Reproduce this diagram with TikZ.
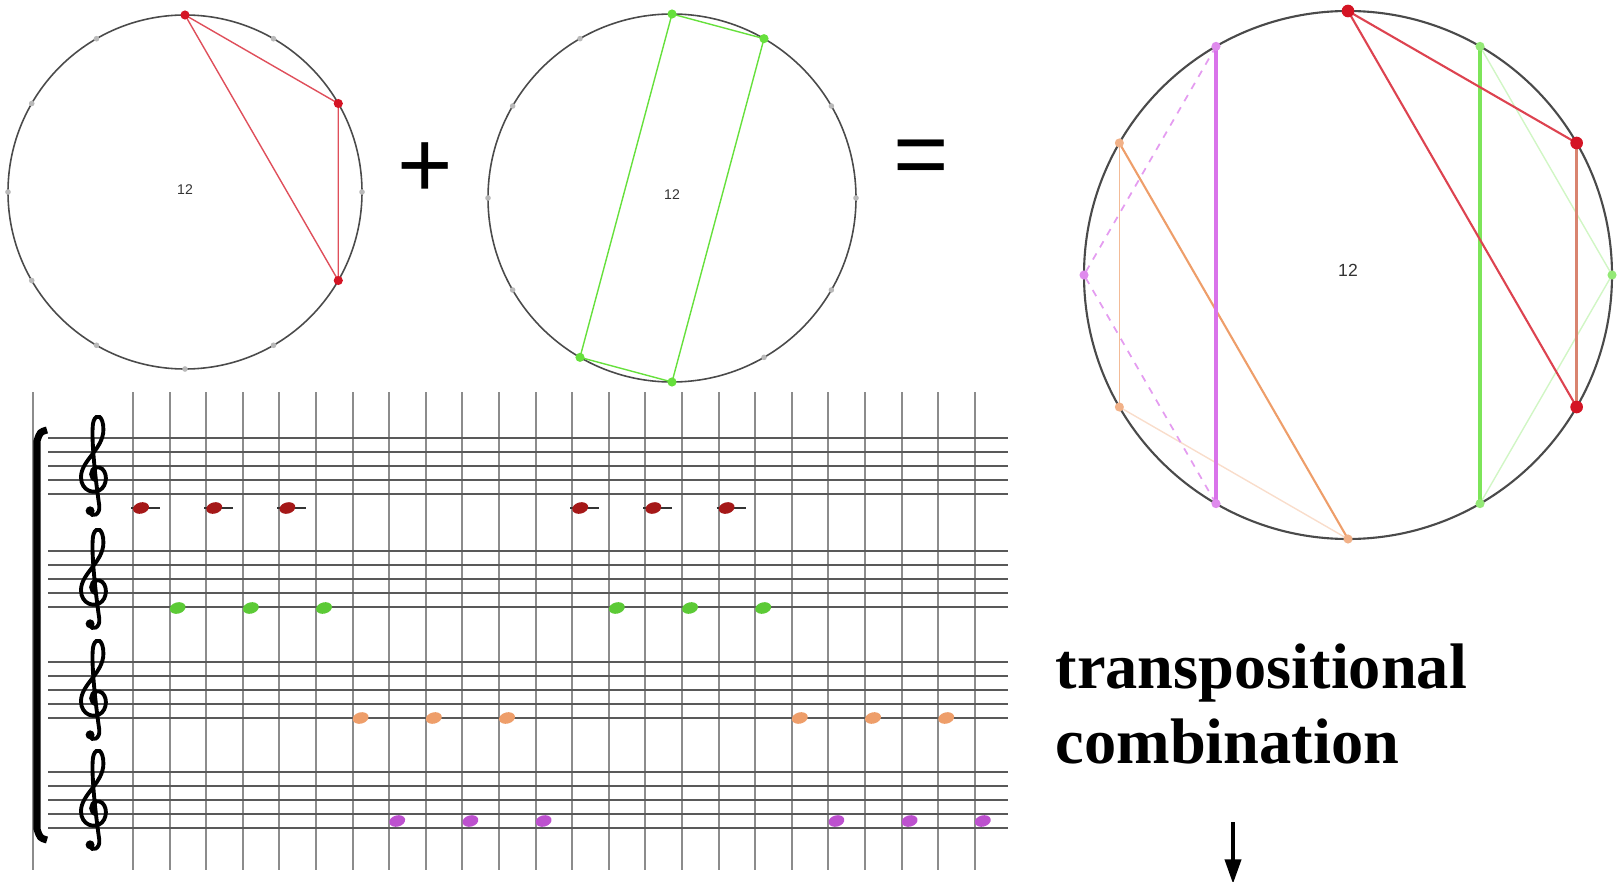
\documentclass[tikz,border=0pt]{standalone}
\usepackage{fontspec}
\setmainfont{Liberation Serif}
\newfontfamily\arialfont{Liberation Sans}
\usetikzlibrary{shapes.geometric,arrows.meta}
\definecolor{pcred}{HTML}{D41424}
\definecolor{notered}{HTML}{A51818}
\definecolor{pcgreen}{HTML}{66E03C}
\definecolor{pcorange}{HTML}{EE9E6A}
\definecolor{pcmagenta}{HTML}{D25AE6}
\definecolor{dialgray}{HTML}{4A4A4A}
\tikzset{
  pc dot/.style={
    circle, inner sep=0pt, minimum size=2.6pt
  },
  pc tick/.style={
    circle, fill=gray!55, inner sep=0pt, minimum size=1.6pt
  },
  dial/.style={draw=dialgray, line width=0.45pt},
  dial label/.style={font=\arialfont\fontsize{4}{5}\selectfont, text=black!80},
  note head/.style={
    ellipse, inner sep=0pt, minimum width=4.6pt, minimum height=3.2pt, rotate=15
  },
  staff line/.style={draw=black!65, line width=0.8pt},
  grid line/.style={draw=black!45, line width=0.6pt},
  op sign/.style={font=\arialfont\fontsize{27}{30}\selectfont},
  title text/.style={
    font=\fontsize{18.3}{21}\selectfont\bfseries, inner sep=0pt, anchor=base west
  },
  g clef/.pic={
    \draw[line width=1.1pt, x=0.14cm, y=0.14cm]
      (0.1,1.0) .. controls (-0.4,1.0) and (-0.4,1.8) .. (0.1,1.9)
      .. controls (0.8,2.0) and (1.0,0.9) .. (0.5,0.4)
      .. controls (0.0,-0.1) and (-1.0,0.2) .. (-1.0,1.2)
      .. controls (-1.0,2.4) and (0.6,3.2) .. (0.6,4.6)
      .. controls (0.6,5.6) and (0.1,5.8) .. (-0.1,5.2)
      .. controls (-0.3,4.6) and (-0.1,2.0) .. (0.3,-0.8)
      .. controls (0.4,-1.5) and (-0.2,-1.7) .. (-0.4,-1.3);
    \fill[x=0.14cm, y=0.14cm] (-0.35,-1.2) circle[radius=0.32];
  }
}

\begin{document}
\begin{tikzpicture}[x=0.01cm, y=-0.01cm]
\useasboundingbox (0,0) rectangle (1624,882);

% ------------------------------------------------
% dial 1: {0,2,4}
% ------------------------------------------------
\begin{scope}[shift={(185,192)}]
  \draw[dial] (0,0) circle[radius=177];
  \foreach \k in {0,...,11} \coordinate (a\k) at (-90+30*\k:177);
  \foreach \k in {1,3,5,6,7,8,9,10,11} \node[pc tick] (at\k) at (a\k) {};
  \draw[pcred!75, line width=0.4pt] (a0) -- (a2) -- (a4) -- cycle;
  \foreach \k in {0,2,4} \node[pc dot, fill=pcred] (ad\k) at (a\k) {};
  \node[dial label] (alab) at (0,-2) {12};
\end{scope}

\node[op sign] (plus) at (425,170) {+};

% ------------------------------------------------
% dial 2: {0,1,6,7}
% ------------------------------------------------
\begin{scope}[shift={(672,198)}]
  \draw[dial] (0,0) circle[radius=184];
  \foreach \k in {0,...,11} \coordinate (b\k) at (-90+30*\k:184);
  \foreach \k in {2,3,4,5,8,9,10,11} \node[pc tick] (bt\k) at (b\k) {};
  \draw[pcgreen, line width=0.4pt] (b0) -- (b1) -- (b6) -- (b7) -- cycle;
  \foreach \k in {0,1,6,7} \node[pc dot, fill=pcgreen] (bd\k) at (b\k) {};
  \node[dial label] (blab) at (0,-3) {12};
\end{scope}

\node[op sign] (equals) at (921,163) {=};

% ------------------------------------------------
% dial 3: the combination
% ------------------------------------------------
\begin{scope}[shift={(1348,275)}]
  \draw[dial, line width=0.6pt] (0,0) circle[radius=264];
  \foreach \k in {0,...,11} \coordinate (c\k) at (-90+30*\k:264);
  % faint sides
  \draw[pcgreen!30, line width=0.4pt] (c1) -- (c3) -- (c5);
  \draw[pcorange!35, line width=0.4pt] (c8) -- (c6);
  \draw[pcorange!70, line width=0.4pt] (c10) -- (c8);
  \draw[pcmagenta!60, line width=0.5pt, dash pattern=on 2pt off 2pt]
    (c11) -- (c9) -- (c7);
  % main sides
  \draw[pcorange, line width=0.6pt] (c10) -- (c6);
  \draw[pcmagenta!85, line width=1.1pt] (c11) -- (c7);
  \draw[pcgreen!85, line width=1.1pt] (c1) -- (c5);
  \draw[pcred!80, line width=0.6pt] (c2) -- (c0) -- (c4);
  \draw[pcred!45!brown!70, line width=1pt] (c2) -- (c4);
  \foreach \k in {0,2,4} \node[pc dot, fill=pcred, minimum size=3.6pt] (cd\k) at (c\k) {};
  \foreach \k in {1,3,5} \node[pc dot, fill=pcgreen!70] (cd\k) at (c\k) {};
  \foreach \k in {6,8,10} \node[pc dot, fill=pcorange!80] (cd\k) at (c\k) {};
  \foreach \k in {7,9,11} \node[pc dot, fill=pcmagenta!70] (cd\k) at (c\k) {};
  \node[dial label, font=\arialfont\fontsize{5}{6}\selectfont] (clab) at (0,-5) {12};
\end{scope}

% ------------------------------------------------
% score: four staves on a time grid
% ------------------------------------------------
\draw[grid line] (33,392) -- (33,870);
\foreach \k in {0,...,23} \draw[grid line] (133+36.6*\k,392) -- (133+36.6*\k,870);
\foreach \t in {438,551,662,772} {
  \foreach \j in {0,...,4} \draw[staff line] (48,\t+14*\j) -- (1008,\t+14*\j);
  \pic at (95,\t+56) {g clef};
}
\draw[line width=2pt] (47,430) .. controls (40,432) .. (37,441) -- (37,829)
  .. controls (40,838) .. (47,840);

% notes
\foreach \k [count=\i] in {0,2,4,12,14,16} {
  \draw[staff line, draw=black!80] (131+36.6*\k,508) -- (160+36.6*\k,508);
  \node[note head, fill=notered] (rn\i) at (141+36.6*\k,508) {};
}
\foreach \k [count=\i] in {1,3,5,13,15,17}
  \node[note head, fill=pcgreen!90!black] (gn\i) at (141+36.6*\k,608) {};
\foreach \k [count=\i] in {6,8,10,18,20,22}
  \node[note head, fill=pcorange] (on\i) at (141+36.6*\k,718) {};
\foreach \k [count=\i] in {7,9,11,19,21,23}
  \node[note head, fill=pcmagenta!90!black] (mn\i) at (141+36.6*\k,821) {};

% ------------------------------------------------
% caption and arrow
% ------------------------------------------------
\node[title text] (tline1) at (1055,688) {transpositional};
\node[title text] (tline2) at (1055,763) {combination};
\coordinate (arrtop) at (1233,822);
\coordinate (arrtip) at (1233,884);
\draw[line width=1.2pt, -{Triangle[width=4.5pt,length=7pt]}] (arrtop) -- (arrtip);
\end{tikzpicture}
\end{document}
